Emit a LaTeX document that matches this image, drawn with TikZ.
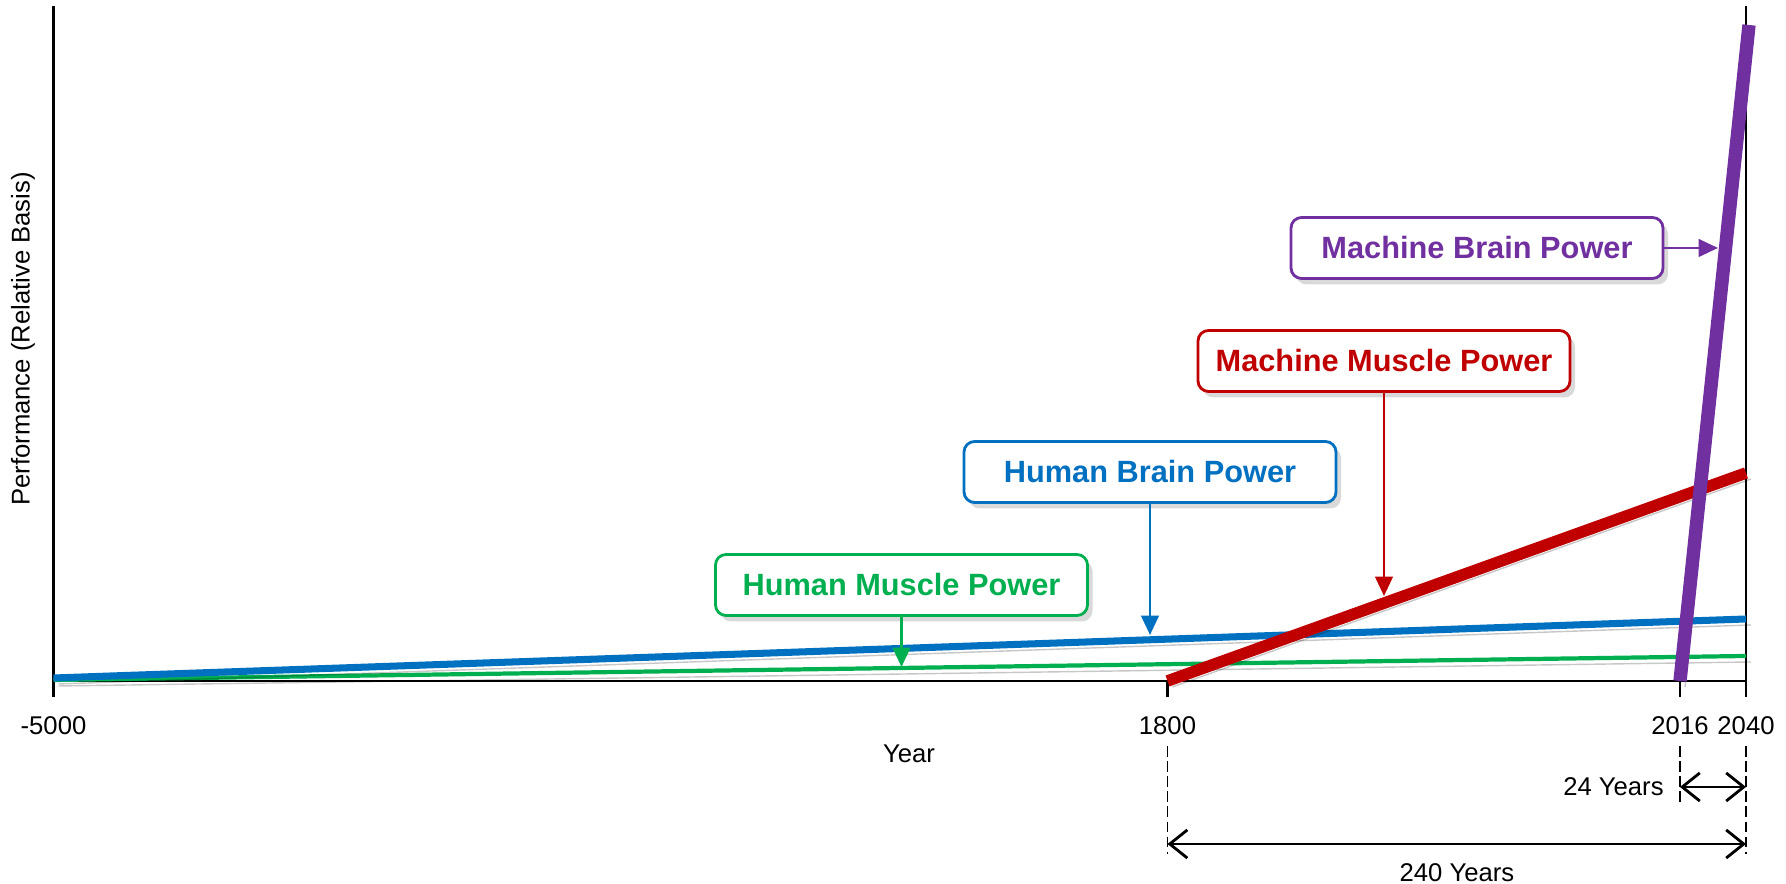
\documentclass[tikz,border=0pt]{standalone}
\usepackage{fontspec}
\setmainfont{Liberation Sans}
\usetikzlibrary{arrows.meta,shadows}

\definecolor{hmuscle}{RGB}{0,176,80}
\definecolor{hbrain}{RGB}{0,112,192}
\definecolor{mmuscle}{RGB}{192,0,0}
\definecolor{mbrain}{RGB}{112,48,160}

\tikzset{
  label box/.style={draw=#1, text=#1, line width=0.8pt, rounded corners=3pt, fill=white,
    minimum width=3.72cm, minimum height=0.61cm,
    font=\fontsize{8.75}{10}\selectfont\bfseries,
    drop shadow={shadow xshift=0.05cm, shadow yshift=-0.06cm, opacity=0.3}},
  pointer/.style={draw=#1, line width=0.7pt, -{Triangle[width=5pt,length=5.5pt]}},
  curve shadow/.style={preaction={draw=black, opacity=0.22,
    transform canvas={shift={(0.05,-0.06)}}}},
  span/.style={line width=0.8pt,
    {Straight Barb[length=5pt,width=8pt]}-{Straight Barb[length=5pt,width=8pt]}},
  guide/.style={line width=0.4pt, dash pattern=on 3pt off 1.3pt},
  axis text/.style={font=\fontsize{7.3}{9}\selectfont}
}

\begin{document}
\begin{tikzpicture}
\useasboundingbox (0,0) rectangle (17.86,8.84);

% Axes and frame line at 2040
\coordinate (o) at (0.535,2.03);
\coordinate (ytop) at (0.535,8.78);
\coordinate (xend) at (17.46,2.03);
\coordinate (rtop) at (17.46,8.78);
\draw[line width=0.8pt] (ytop) -- (o) -- (xend);
\draw[line width=0.6pt] (xend) -- (rtop);

% Ticks and year labels
\foreach \x/\yr/\nm in {0.535/-5000/ta, 11.675/1800/tb, 16.80/2016/tc, 17.46/2040/td}{
  \draw[line width=0.8pt] (\x,2.03) -- (\x,1.87);
  \node[axis text] (\nm) at (\x,1.58) {\yr};
}

% Axis titles
\node[axis text] (xtitle) at (9.09,1.30) {Year};
\node[axis text, rotate=90] (ytitle) at (0.23,5.45) {Performance (Relative Basis)};

% Human muscle power
\coordinate (hm0) at (0.535,2.04);
\coordinate (hm1) at (17.46,2.28);
\draw[hmuscle, line width=1.2pt, curve shadow] (hm0) -- (hm1);

% Human brain power
\coordinate (hb0) at (0.535,2.06);
\coordinate (hb1) at (17.46,2.65);
\draw[hbrain, line width=2pt, curve shadow] (hb0) -- (hb1);

% Machine muscle power
\coordinate (mm0) at (11.675,2.03);
\coordinate (mm1) at (17.46,4.11);
\draw[mmuscle, line width=3.3pt, curve shadow] (mm0) -- (mm1);

% Machine brain power
\coordinate (mb0) at (16.80,2.03);
\coordinate (mb1) at (17.49,8.59);
\draw[mbrain, line width=3.8pt, curve shadow] (mb0) -- (mb1);

% Label boxes
\node[label box=hmuscle] (hmp) at (9.015,2.99) {Human Muscle Power};
\node[label box=hbrain] (hbp) at (11.50,4.12) {Human Brain Power};
\node[label box=mmuscle] (mmp) at (13.84,5.23) {Machine Muscle Power};
\node[label box=mbrain] (mbp) at (14.77,6.36) {Machine Brain Power};

% Pointers onto the curves
\coordinate (hmtip) at (9.015,2.17);
\coordinate (hbtip) at (11.50,2.49);
\coordinate (mmtip) at (13.84,2.88);
\coordinate (mbtip) at (17.18,6.36);
\draw[pointer=hmuscle] (hmp.south) -- (hmtip);
\draw[pointer=hbrain] (hbp.south) -- (hbtip);
\draw[pointer=mmuscle] (mmp.south) -- (mmtip);
\draw[pointer=mbrain] (mbp.east) -- (mbtip);

% Time spans
\coordinate (g1) at (11.675,1.38);
\coordinate (g2) at (16.80,1.38);
\coordinate (g3) at (17.46,1.38);
\coordinate (g1b) at (11.675,0.30);
\coordinate (g2b) at (16.80,0.81);
\coordinate (g3b) at (17.46,0.30);
\draw[guide] (g1) -- (g1b);
\draw[guide] (g2) -- (g2b);
\draw[guide] (g3) -- (g3b);

\draw[span] (16.80,0.97) coordinate (s24a) -- (17.46,0.97) coordinate (s24b);
\node[axis text, anchor=east] (y24) at (16.76,0.97) {24 Years};
\draw[span] (11.675,0.40) coordinate (s240a) -- (17.46,0.40) coordinate (s240b);
\node[axis text] (y240) at (14.57,0.115) {240 Years};
\end{tikzpicture}
\end{document}
